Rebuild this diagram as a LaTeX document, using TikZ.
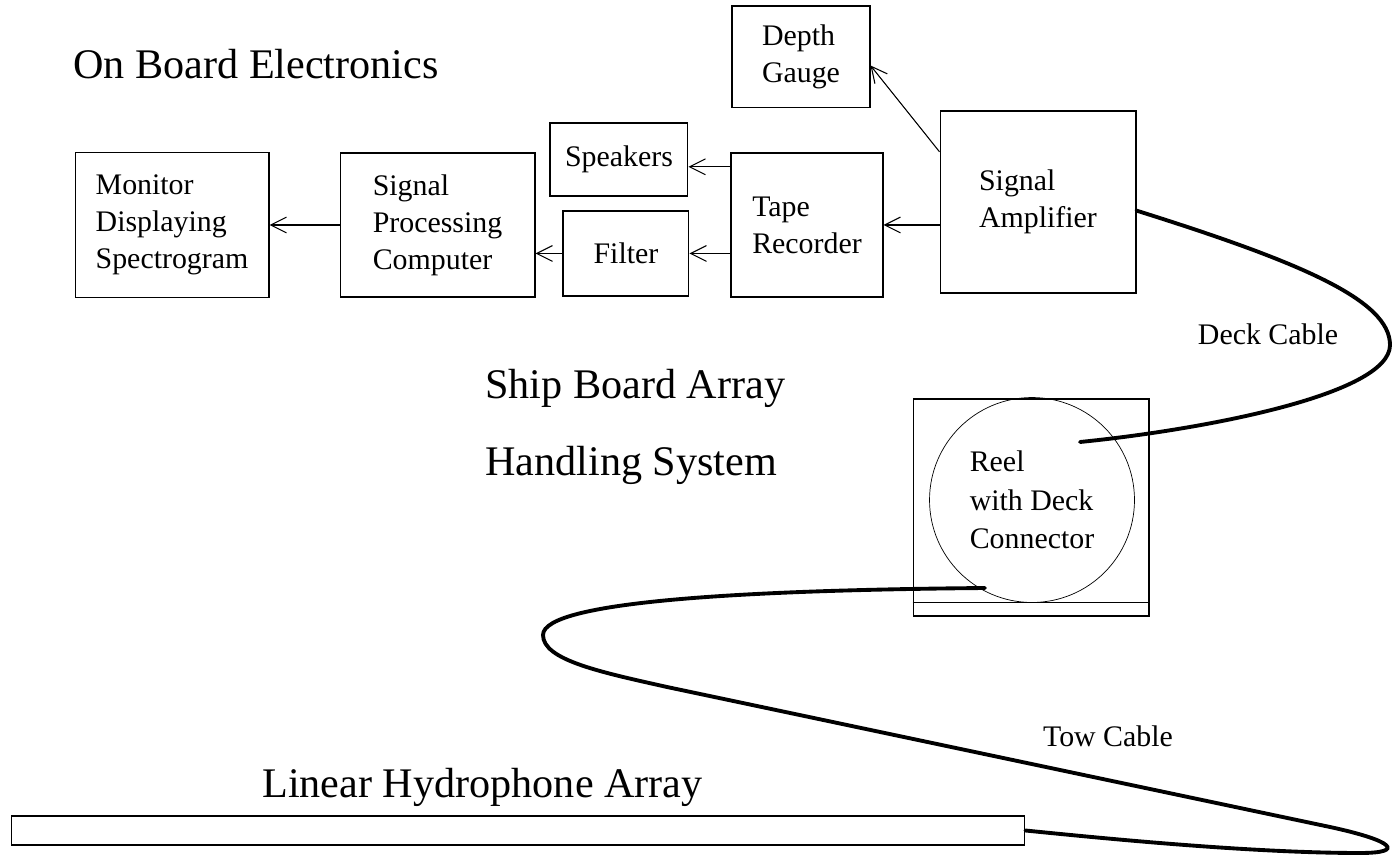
\documentclass[tikz,border=0pt]{standalone}
\usepackage{fontspec}
\setmainfont{Liberation Serif}
\usetikzlibrary{arrows.meta,positioning}

\begin{document}
\begin{tikzpicture}[
            x=0.02cm, y=-0.02cm,
            box/.style={rectangle, draw, line width=0.6pt, align=left, inner sep=0pt, font=\fontsize{17}{21}\selectfont},
            heading/.style={anchor=base west, inner sep=0pt, align=left, font=\fontsize{24}{29}\selectfont},
            cablelabel/.style={inner sep=0pt, font=\fontsize{17}{21}\selectfont},
            arrow/.style={-{Straight Barb[length=9pt,width=9pt]}, line width=0.6pt},
            cable/.style={line width=2.2pt, line cap=round}
        ]
            \useasboundingbox (0,0) rectangle (1392,857);

            % --- TITLES ---
            \node[heading] (hdonboard) at (73,79) {On Board Electronics};
            \node[heading, anchor=north west, font=\fontsize{24}{44}\selectfont] (hdship) at (485,369) {Ship Board Array\\Handling System};
            \node[heading] (hdarray) at (262,797) {Linear Hydrophone Array};

            % --- ON BOARD ELECTRONICS ---
            \node[box, minimum width=3.92cm, minimum height=3.64cm] (amp) at (1038,202) {Signal\\Amplifier};
            \node[box, minimum width=3.04cm, minimum height=2.88cm, left=1.12cm of amp, yshift=-0.46cm] (tape) {Tape\\Recorder};
            \node[box, minimum width=2.76cm, minimum height=2.04cm, above=0.88cm of tape, xshift=-0.12cm] (depth) {Depth\\Gauge};
            \node[box, minimum width=2.76cm, minimum height=1.46cm, left=0.84cm of tape, yshift=1.31cm] (spk) {Speakers};
            \node[box, minimum width=2.52cm, minimum height=1.7cm, left=0.82cm of tape, yshift=-0.57cm] (filt) {Filter};
            \node[box, minimum width=3.9cm, minimum height=2.88cm, left=3.9cm of tape] (spc) {Signal\\Processing\\Computer};
            \node[box, minimum width=3.88cm, minimum height=2.9cm, left=1.4cm of spc] (mon) {Monitor\\Displaying\\Spectrogram};

            % --- SIGNAL PATH ---
            \draw[arrow] (amp.west |- tape.east) -- (tape.east);
            \draw[arrow] (amp.153) -- (depth.-7);
            \draw[arrow] (tape.west |- spk.-6) -- (spk.-6);
            \draw[arrow] (tape.west |- filt.east) -- (filt.east);
            \draw[arrow] (filt.west) -- (filt.west -| spc.east);
            \draw[arrow] (spc.west) -- (mon.east);

            % --- REEL ---
            \node[box, minimum width=4.72cm, minimum height=4.34cm] (reelbox) at (1031,507.5) {};
            \draw[line width=0.6pt] ([yshift=0.28cm]reelbox.south west) -- ([yshift=0.28cm]reelbox.south east);
            \node[circle, draw, line width=0.4pt, minimum size=4.1cm, inner sep=0pt, align=left, font=\fontsize{17}{22}\selectfont] (reel) at (1032,500) {Reel\\with Deck\\Connector};

            % --- ARRAY ---
            \node[box, minimum width=20.28cm, minimum height=0.58cm] (array) at (518,830.5) {};

            % --- CABLES ---
            \coordinate (deckend) at (1080,442);
            \coordinate (towend) at (985,588);
            \draw[cable] (amp.-5) .. controls (1300,262) and (1390,300) .. (1390,345)
                .. controls (1390,395) and (1200,430) .. (deckend);
            \draw[cable] (towend) .. controls (760,590) and (543,600) .. (543,635)
                .. controls (543,660) and (600,672) .. (667,687) -- (1330,827)
                .. controls (1395,841) and (1405,853) .. (1360,853)
                .. controls (1250,853) and (1100,838) .. (array.east);

            \node[cablelabel] (decklbl) at (1268,334) {Deck Cable};
            \node[cablelabel] (towlbl) at (1108,736) {Tow Cable};
        \end{tikzpicture}
\end{document}
